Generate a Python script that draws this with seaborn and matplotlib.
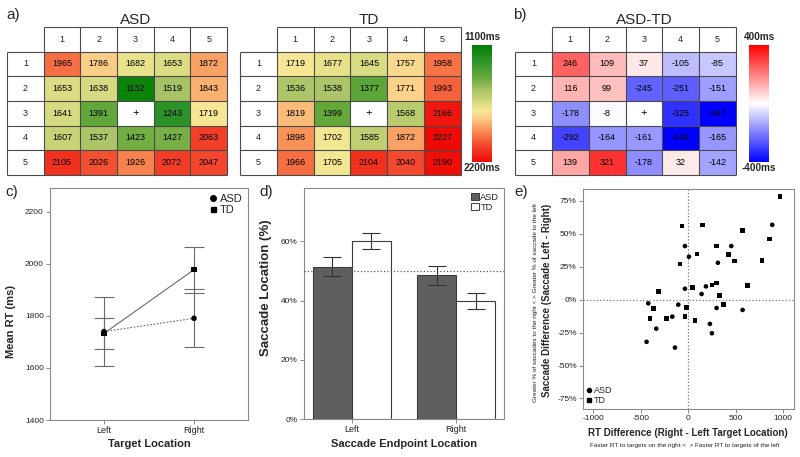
import numpy as np
import pandas as pd
import matplotlib
matplotlib.use("Agg")
import matplotlib.pyplot as plt
import seaborn as sns
from matplotlib.colors import LinearSegmentedColormap
from matplotlib.lines import Line2D
from matplotlib.patches import Patch
from matplotlib.ticker import PercentFormatter

sns.set_theme(style="white")
plt.rcParams['font.family'] = ['Liberation Sans', 'DejaVu Sans']
plt.rcParams['axes.unicode_minus'] = False

nan = np.nan
# ---------------- data ----------------
grid_labels = ["1", "2", "3", "4", "5"]
asd_rt = [[1965, 1786, 1682, 1653, 1872],
          [1653, 1638, 1132, 1519, 1843],
          [1641, 1391, nan, 1243, 1719],
          [1607, 1537, 1423, 1427, 2063],
          [2105, 2026, 1926, 2072, 2047]]
td_rt = [[1719, 1677, 1645, 1757, 1958],
         [1536, 1538, 1377, 1771, 1993],
         [1819, 1399, nan, 1568, 2166],
         [1898, 1702, 1585, 1872, 2227],
         [1966, 1705, 2104, 2040, 2190]]
diff_rt = [[246, 109, 37, -105, -85],
           [116, 99, -245, -251, -151],
           [-178, -8, nan, -325, -447],
           [-292, -164, -161, -445, -165],
           [139, 321, -178, 32, -142]]
rt_range = (1100, 2200)
diff_range = (-400, 400)

groups = ["ASD", "TD"]
target_loc = ["Left", "Right"]
mean_rt = {"ASD": [1740, 1791], "TD": [1733, 1978]}
mean_rt_err = {"ASD": [133, 112], "TD": [60, 88]}

endpoint_loc = ["Left", "Right"]
sacc_pct = {"ASD": [0.514, 0.486], "TD": [0.600, 0.399]}
sacc_err = {"ASD": [0.032, 0.032], "TD": [0.027, 0.027]}

asd_rt_diff = [884, -35, 453, 7, 312, -35, 186, 140, -421, -105, 298, 572,
               -168, 228, 249, -337, -439, -140]
asd_sacc_diff = [0.568, 0.407, 0.407, 0.326, 0.28, 0.083, 0.101, 0.043, -0.028,
                 -0.038, -0.063, -0.078, -0.129, -0.184, -0.255, -0.22, -0.32, -0.364]
td_rt_diff = [965, -67, 147, 568, 856, 298, 91, 425, 484, 776, -88, -316, 621,
              42, 249, 298, 326, -368, -18, 368, -35, -404, -228, 70]
td_sacc_diff = [0.785, 0.56, 0.568, 0.525, 0.46, 0.407, 0.346, 0.343, 0.293,
                0.298, 0.27, 0.061, 0.106, 0.093, 0.111, 0.126, 0.03, -0.066,
                -0.058, -0.038, -0.126, -0.144, -0.144, -0.159]

# ---------------- figure ----------------
W, H = 800, 457
fig = plt.figure(figsize=(W / 100, H / 100), dpi=100)


def rect(x0, y0, x1, y1):
    return [x0 / W, 1 - y1 / H, (x1 - x0) / W, (y1 - y0) / H]


def fxy(x, y):
    return x / W, 1 - y / H


rt_cmap = LinearSegmentedColormap.from_list("rt", [
    (0.0, "#037f03"), (0.13, "#2a9228"), (0.27, "#64a83a"), (0.38, "#a6c264"),
    (0.5, "#dadc82"), (0.56, "#f6e896"), (0.63, "#fcca84"), (0.75, "#f7844e"),
    (0.85, "#f34c30"), (1.0, "#ee0a05")])
diff_cmap = LinearSegmentedColormap.from_list("diff", ["#0000ff", "#ffffff", "#ff0000"])

GRID = "#4a4a4a"


def draw_table(ax, values, cmap, vrange, title, cax=None):
    arr = np.array(values, dtype=float)
    annot = np.array([["" if np.isnan(v) else f"{int(v)}" for v in row] for row in arr])
    sns.heatmap(arr, ax=ax, cmap=cmap, vmin=vrange[0], vmax=vrange[1],
                annot=annot, fmt="", annot_kws={"color": "black", "fontsize": 6.5},
                cbar=cax is not None, cbar_ax=cax,
                cbar_kws={"ticks": []} if cax is not None else None,
                xticklabels=False, yticklabels=False)
    n = arr.shape[0]
    ax.set_xlim(-1, n)
    ax.set_ylim(n, -1)
    kw = dict(color=GRID, lw=0.8, clip_on=False, zorder=5)
    ax.hlines([-1], 0, n, **kw)
    ax.hlines(range(0, n + 1), -1, n, **kw)
    ax.vlines([-1], 0, n, **kw)
    ax.vlines(range(0, n + 1), -1, n, **kw)
    for j, lab in enumerate(grid_labels):
        ax.text(j + 0.5, -0.5, lab, ha="center", va="center", fontsize=6.5, color="#222")
        ax.text(-0.5, j + 0.5, lab, ha="center", va="center", fontsize=6.5, color="#222")
    for i in range(n):
        for j in range(n):
            if np.isnan(arr[i, j]):
                ax.text(j + 0.5, i + 0.5, "+", ha="center", va="center",
                        fontsize=8, color="black")
    ax.set_title(title, fontsize=11, pad=2)
    ax.title.set_position((0.5 + 1 / 12, 1))
    ax.set_xticks([])
    ax.set_yticks([])
    if cax is not None:
        cb = ax.collections[0].colorbar
        cb.outline.set_visible(False)


ax_asd = fig.add_axes(rect(7, 27, 227, 175))
draw_table(ax_asd, asd_rt, rt_cmap, rt_range, "ASD")
ax_td = fig.add_axes(rect(240, 27, 461, 175))
cax_td = fig.add_axes(rect(472, 45, 492, 162))
draw_table(ax_td, td_rt, rt_cmap, rt_range, "TD", cax=cax_td)
cax_td.invert_yaxis()
ax_df = fig.add_axes(rect(515, 27, 736, 175))
cax_df = fig.add_axes(rect(749, 45, 769, 162))
draw_table(ax_df, diff_rt, diff_cmap, diff_range, "ASD-TD", cax=cax_df)

cbkw = dict(ha="center", va="center", fontsize=7.2, fontweight="bold")
fig.text(*fxy(482, 37), f"{rt_range[0]}ms", **cbkw)
fig.text(*fxy(482, 168), f"{rt_range[1]}ms", **cbkw)
fig.text(*fxy(759, 37), f"{diff_range[1]}ms", **cbkw)
fig.text(*fxy(759, 168), f"{diff_range[0]}ms", **cbkw)

for lab, (x, y) in {"a)": (13, 15), "b)": (520, 15), "c)": (12, 192),
                    "d)": (266, 192), "e)": (521, 192)}.items():
    fig.text(*fxy(x, y), lab, ha="center", va="center", fontsize=11)

SPINE = "#8a8a8a"


def style_axes(ax):
    for s in ax.spines.values():
        s.set_visible(True)
        s.set_color(SPINE)
        s.set_linewidth(0.8)
    ax.tick_params(axis="both", which="both", direction="out", length=3, width=0.7,
                   color=SPINE, labelsize=6, labelcolor="#222", pad=1.5,
                   bottom=True, left=True)
    ax.grid(False)


# ---------------- panel c ----------------
ax_c = fig.add_axes(rect(50, 188, 248, 420))
rows = []
for g in groups:
    for i, loc in enumerate(target_loc):
        rows.append({"group": g, "pos": i, "rt": mean_rt[g][i], "err": mean_rt_err[g][i]})
dfc = pd.DataFrame(rows)
sns.lineplot(data=dfc, x="pos", y="rt", style="group", style_order=groups,
             dashes={"ASD": (1.5, 1.5), "TD": ""}, color="#6a6a6a", lw=0.8,
             legend=False, ax=ax_c, zorder=2)
for g in groups:
    sub = dfc[dfc.group == g]
    ax_c.errorbar(sub.pos, sub.rt, yerr=sub.err, fmt="none", ecolor="#6a6a6a",
                  elinewidth=0.8, capsize=7, capthick=0.8, zorder=3)
sns.scatterplot(data=dfc, x="pos", y="rt", style="group", style_order=groups,
                markers={"ASD": "o", "TD": "s"}, color="black", s=16, linewidth=0,
                legend=False, ax=ax_c, zorder=4)
ax_c.set_xlim(-0.6, 1.6)
ax_c.set_ylim(1400, 2292)
ax_c.set_xticks(range(len(target_loc)), target_loc)
ax_c.set_yticks([1400, 1600, 1800, 2000, 2200])
style_axes(ax_c)
ax_c.tick_params(axis="x", labelsize=6.5)
ax_c.set_xlabel("Target Location", fontsize=8, fontweight="bold")
ax_c.set_ylabel("Mean RT (ms)", fontsize=8, fontweight="bold")
ax_c.xaxis.set_label_coords(*fxy(149, 444), transform=fig.transFigure)
ax_c.yaxis.set_label_coords(*fxy(11, 322), transform=fig.transFigure)
ax_c.xaxis.label.set_va("center")
ax_c.yaxis.label.set_va("center")
hc = [Line2D([], [], marker="o", ls="none", color="black", ms=4),
      Line2D([], [], marker="s", ls="none", color="black", ms=3.6)]
ax_c.legend(hc, groups, loc="upper right", frameon=False, fontsize=8,
            handlelength=0.6, handletextpad=0.3, labelspacing=0.15,
            borderaxespad=0.3, borderpad=0.2)

# ---------------- panel d ----------------
ax_d = fig.add_axes(rect(304, 188, 504, 419))
rows = []
for g in groups:
    for i, loc in enumerate(endpoint_loc):
        rows.append({"group": g, "loc": loc, "pct": sacc_pct[g][i], "err": sacc_err[g][i]})
dfd = pd.DataFrame(rows)
bar_colors = {"ASD": "#5f5f5f", "TD": "#ffffff"}
sns.barplot(data=dfd, x="loc", y="pct", hue="group", hue_order=groups, order=endpoint_loc,
            palette=bar_colors, width=0.75, edgecolor="#3c3c3c", linewidth=0.8,
            errorbar=None, legend=False, ax=ax_d, saturation=1)
for cont, g in zip(ax_d.containers, groups):
    xs = [b.get_x() + b.get_width() / 2 for b in cont]
    ys = [b.get_height() for b in cont]
    ax_d.errorbar(xs, ys, yerr=sacc_err[g], fmt="none", ecolor="#333333",
                  elinewidth=0.8, capsize=6.5, capthick=0.8, zorder=4)
ax_d.axhline(0.5, ls=":", color="#555555", lw=0.9, zorder=3)
ax_d.set_xlim(-0.46, 1.46)
ax_d.set_ylim(0, 0.78)
ax_d.set_yticks([0, 0.2, 0.4, 0.6])
ax_d.yaxis.set_major_formatter(PercentFormatter(1.0, decimals=0))
style_axes(ax_d)
ax_d.tick_params(axis="x", labelsize=6.5)
ax_d.set_xlabel("Saccade Endpoint Location", fontsize=8, fontweight="bold")
ax_d.set_ylabel("Saccade Location (%)", fontsize=9.5, fontweight="bold")
ax_d.xaxis.set_label_coords(*fxy(404, 444), transform=fig.transFigure)
ax_d.yaxis.set_label_coords(*fxy(266, 288), transform=fig.transFigure)
ax_d.xaxis.label.set_va("center")
ax_d.yaxis.label.set_va("center")
hd = [Patch(facecolor=bar_colors[g], edgecolor="#3c3c3c", lw=0.7) for g in groups]
ax_d.legend(hd, groups, loc="upper right", frameon=False, fontsize=6.7,
            handlelength=0.9, handleheight=0.9, handletextpad=0.15, labelspacing=0.1,
            borderaxespad=0.3, borderpad=0.2)

# ---------------- panel e ----------------
ax_e = fig.add_axes(rect(583, 189, 794, 409))
dfe = pd.DataFrame({
    "rt": asd_rt_diff + td_rt_diff,
    "sacc": asd_sacc_diff + td_sacc_diff,
    "group": ["ASD"] * len(asd_rt_diff) + ["TD"] * len(td_rt_diff)})
ax_e.axvline(0, ls=":", color="#777777", lw=0.9, zorder=1)
ax_e.axhline(0, ls=":", color="#777777", lw=0.9, zorder=1)
sns.scatterplot(data=dfe, x="rt", y="sacc", style="group", style_order=groups,
                markers={"ASD": "o", "TD": "s"}, color="black", s=11, linewidth=0,
                legend=False, ax=ax_e, zorder=3)
ax_e.set_xlim(-1108, 1113)
ax_e.set_ylim(-0.83, 0.84)
ax_e.set_xticks([-1000, -500, 0, 500, 1000])
ax_e.set_yticks([-0.75, -0.5, -0.25, 0, 0.25, 0.5, 0.75])
ax_e.yaxis.set_major_formatter(PercentFormatter(1.0, decimals=0))
style_axes(ax_e)
ax_e.set_xlabel("RT Difference (Right - Left Target Location)", fontsize=7, fontweight="bold")
ax_e.set_ylabel("Saccade Difference (Saccade Left - Right)", fontsize=7, fontweight="bold")
ax_e.xaxis.set_label_coords(*fxy(688, 433), transform=fig.transFigure)
ax_e.yaxis.set_label_coords(*fxy(547, 300), transform=fig.transFigure)
ax_e.xaxis.label.set_va("center")
ax_e.yaxis.label.set_va("center")
fig.text(*fxy(685, 446), "Faster RT to targets on the right <  > Faster RT to targets of the left",
         ha="center", va="center", fontsize=4.6, color="#222")
fig.text(*fxy(535, 302), "Greater % of saccades to the right < > Greater % of saccade to the left",
         ha="center", va="center", rotation=90, fontsize=4.6, color="#222")
he = [Line2D([], [], marker="o", ls="none", color="black", ms=3),
      Line2D([], [], marker="s", ls="none", color="black", ms=3)]
ax_e.legend(he, groups, loc="lower left", frameon=False, fontsize=6.5,
            handlelength=0.5, handletextpad=0.3, labelspacing=0.1,
            borderaxespad=0.2, borderpad=0.2)

fig.savefig("out.png", dpi=100)
